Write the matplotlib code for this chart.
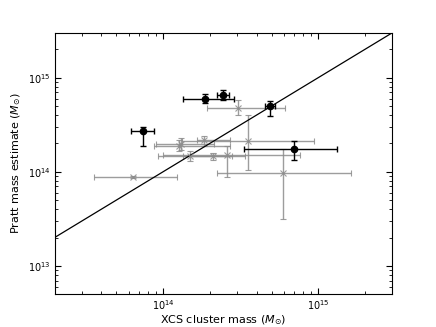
import numpy as np
import matplotlib
matplotlib.use('Agg')
import matplotlib.pyplot as plt

# clusters with good data (black circles): value, lower, upper
xcs_good = np.array([7.4e13, 1.85e14, 2.44e14, 4.9e14, 7.0e14])
xcs_good_lo = np.array([6.2e13, 1.34e14, 2.24e14, 4.55e14, 3.3e14])
xcs_good_hi = np.array([8.7e13, 2.85e14, 2.66e14, 5.28e14, 1.31e15])
pratt_good = np.array([2.73e14, 5.95e14, 6.5e14, 5.0e14, 1.73e14])
pratt_good_lo = np.array([1.89e14, 5.40e14, 5.81e14, 3.96e14, 1.35e14])
pratt_good_hi = np.array([2.98e14, 6.71e14, 7.35e14, 5.6e14, 2.14e14])

# remaining clusters (grey crosses)
xcs_other = np.array([3.06e14, 3.55e14, 1.84e14, 1.31e14, 1.27e14, 1.49e14, 2.09e14, 2.60e14, 5.89e14, 6.38e13])
xcs_other_lo = np.array([1.93e14, 1.32e14, 1.66e14, 9.0e13, 8.79e13, 9.33e13, 1.35e14, 9.96e13, 2.24e14, 3.59e13])
xcs_other_hi = np.array([6.07e14, 9.34e14, 2.71e14, 2.14e14, 2.71e14, 2.77e14, 3.35e14, 7.57e14, 1.63e15, 1.23e14])
pratt_other = np.array([4.77e14, 2.14e14, 2.15e14, 1.99e14, 1.87e14, 1.46e14, 1.47e14, 1.52e14, 9.64e13, 8.75e13])
pratt_other_lo = np.array([4.03e14, 1.05e14, 1.87e14, 1.72e14, 1.66e14, 1.29e14, 1.35e14, 8.75e13, 3.12e13, 8.5e13])
pratt_other_hi = np.array([5.81e14, 4.03e14, 2.42e14, 2.28e14, 2.15e14, 1.65e14, 1.60e14, 1.89e14, 1.76e14, 9.0e13])

one_to_one = [1e12, 1e16]

plt.rcParams['font.size'] = 8
plt.rcParams['mathtext.fontset'] = 'dejavusans'

fig = plt.figure(figsize=(4.36, 3.27), dpi=100)
ax = fig.add_axes([0.125, 0.1, 0.775, 0.8])

ax.errorbar(xcs_other, pratt_other,
            xerr=[xcs_other - xcs_other_lo, xcs_other_hi - xcs_other],
            yerr=[pratt_other - pratt_other_lo, pratt_other_hi - pratt_other],
            fmt='x', color='0.55', ms=4, mew=0.8, elinewidth=1, capsize=2.5, alpha=0.85)
ax.errorbar(xcs_good, pratt_good,
            xerr=[xcs_good - xcs_good_lo, xcs_good_hi - xcs_good],
            yerr=[pratt_good - pratt_good_lo, pratt_good_hi - pratt_good],
            fmt='o', color='k', ms=4.5, elinewidth=1, capsize=2.5)
ax.plot(one_to_one, one_to_one, 'k-', lw=0.9)

ax.set_xscale('log')
ax.set_yscale('log')
ax.set_xlim(2e13, 3e15)
ax.set_ylim(5e12, 3e15)
ax.tick_params(which='both', direction='in', top=True, right=True, labelsize=7, pad=2.5)
ax.tick_params(which='major', length=4)
ax.tick_params(which='minor', length=2)
ax.set_xlabel(r'XCS cluster mass ($M_{\odot}$)', labelpad=1.5)
ax.set_ylabel(r'Pratt mass estimate ($M_{\odot}$)', labelpad=4)

fig.savefig('out.png', dpi=100)
